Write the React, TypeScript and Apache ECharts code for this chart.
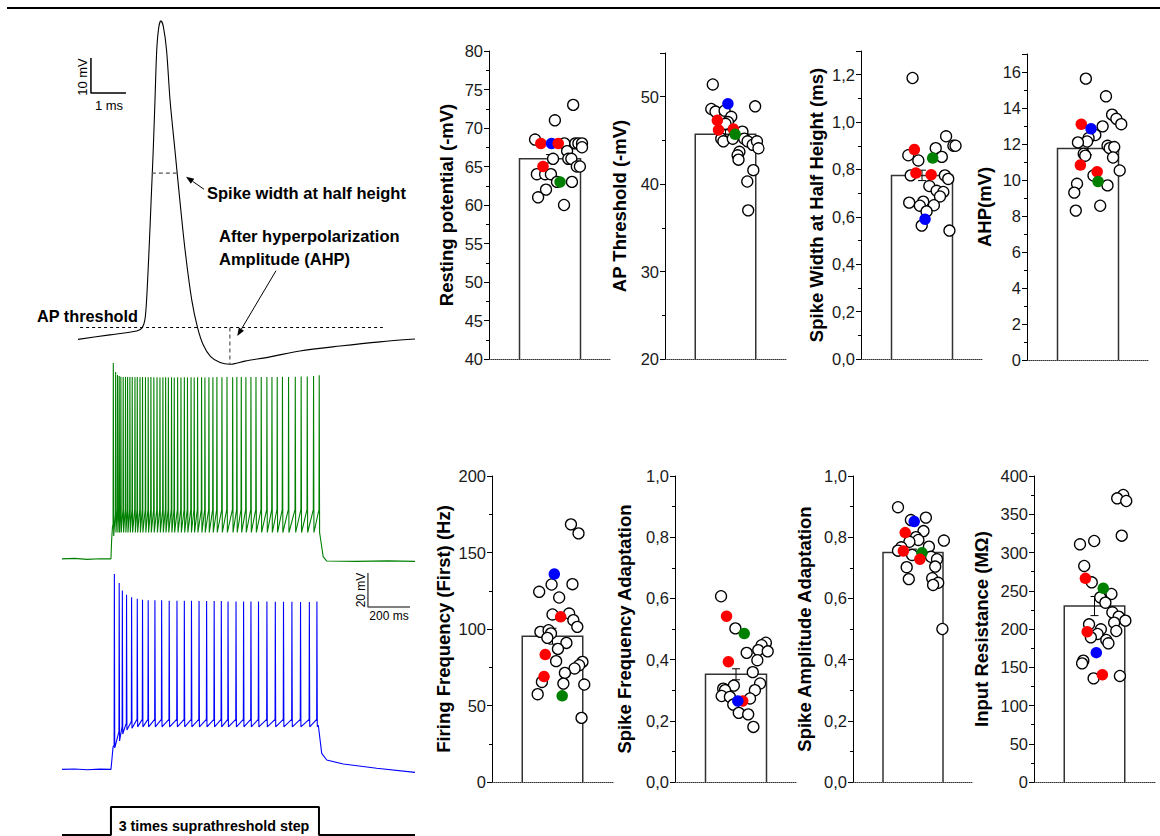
import React, { useEffect, useRef } from "react";
import * as echarts from "echarts";

// ---------------- Action potential waveform (ms, mV) ----------------
const apTrace: [number, number][] = [
  [0, -48.4], [0.91, -47.1], [1.68, -46.0], [1.83, -45.1], [1.91, -42.9], [1.96, -37.1],
  [2.03, -22.9], [2.09, -8.6], [2.15, 5.7], [2.2, 20], [2.25, 34.3], [2.31, 40.9],
  [2.37, 42.6], [2.44, 40.9], [2.53, 34.3], [2.63, 20], [2.77, 5.7], [2.91, -8.6],
  [3.06, -22.9], [3.25, -37.1], [3.42, -45.2], [3.58, -50], [3.79, -53.3], [4.06, -55],
  [4.34, -55.5], [4.77, -54.6], [5.49, -53.4], [6.34, -51.7], [7.49, -50.3], [8.63, -49.1], [9.63, -48.3],
];
const apThresholdLine: [number, number][] = [[0.06, -45], [8.71, -45]];
const halfHeightLine: [number, number][] = [[2.11, -0.9], [2.86, -0.9]];
const ahpLine: [number, number][] = [[4.34, -45], [4.34, -55.5]];
const apScaleBar: [number, number][] = [[0.37, 32], [0.37, 22], [1.37, 22]];

// ---------------- Spike trains (ms, mV) ----------------
const greenSpikeTimes = [
  243, 254, 263, 271, 279, 290, 301, 311, 322, 333, 346, 357, 370, 382, 396, 409, 422, 436, 451, 465,
  479, 492, 505, 520, 533, 549, 565, 581, 596, 613, 628, 644, 663, 679, 698, 717, 736, 760, 784, 811,
  831, 852, 874, 898, 922, 947, 974, 998, 1023, 1048, 1077, 1109, 1137, 1166, 1196, 1223,
];
const greenSpikePeaks = [
  44.7, 39.4, 37.6, 37.0, 36.6, 36.5, 36.5, 36.4, 36.5, 36.4, 36.3, 36.4, 36.3, 36.4, 36.3, 36.3,
  36.4, 36.3, 36.3, 36.2, 36.3, 36.3, 36.2, 36.3, 36.2, 36.3, 36.2, 36.3, 36.2, 36.3, 36.2, 36.3,
  36.3, 36.2, 36.3, 36.3, 36.4, 36.3, 36.4, 36.3, 36.4, 36.4, 36.3, 36.4, 36.4, 36.5, 36.4, 36.5,
  36.5, 36.6, 36.5, 36.6, 36.7, 36.8, 37.0, 37.5,
];
const greenThresholdEarly = [-50, -44];
const greenThresholdSteady = -41.5;
const greenTroughEarly = [-57];
const greenTroughSteady = -55;
const greenBefore: [number, number][] = [[0, -70.5], [60, -70.2], [120, -70.8], [180, -70.4], [233, -70.5], [236, -60], [240, -52]];
const greenAfter: [number, number][] = [[1228, -55], [1243, -69.2], [1260, -71.8], [1400, -72], [1550, -71.7], [1680, -72]];

const blueSpikeTimes = [
  248, 271, 286, 306, 330, 357, 382, 409, 441, 473, 509, 546, 581, 615, 651, 687, 723, 757, 789, 827,
  863, 898, 934, 974, 1014, 1053, 1093, 1134, 1176, 1212,
];
const blueSpikePeaks = [
  44.7, 39.4, 35.0, 32.5, 31.0, 30.2, 29.6, 29.3, 29.2, 29.2, 29.0, 29.0, 29.0, 29.0, 28.8,
  28.8, 28.8, 28.8, 28.6, 28.6, 28.6, 28.5, 28.5, 28.5, 28.4, 28.4, 28.4, 28.3, 28.3, 28.5,
];
const blueThresholdEarly = [-56, -48, -45, -43, -42];
const blueThresholdSteady = -40.8;
const blueTroughEarly = [-57.6, -53.5, -49.4, -47, -46];
const blueTroughSteady = -45.2;
const blueBefore: [number, number][] = [[0, -70.2], [60, -70.0], [120, -70.4], [180, -70.1], [233, -70.2], [236, -66.5], [243, -57]];
const blueAfter: [number, number][] = [[1219.7, -44.1], [1236, -60.8], [1260, -64.7], [1339, -67.1], [1497.6, -69.6], [1680, -72]];

const stepTrace: [number, number][] = [[0, 0], [233, 0], [233, 1], [1223, 1], [1223, 0], [1680, 0]];
const trainScaleBar: [number, number][] = [[1456, 45.3], [1456, 25.3], [1656, 25.3]];

// ---------------- Summary panels ----------------
type Pt = [number, number];
type GPt = [number, number, string];

const restingMean = 66, restingSem = 0.55;
const restingOpen: Pt[] = [
  [1.51, 68.5], [2.16, 71], [2.76, 73], [2.47, 68], [2.56, 67], [2.83, 68], [2.93, 68], [3.05, 68], [3.05, 67.5],
  [2.1, 66], [2.6, 66], [2.7, 66], [2.88, 65], [2.98, 65], [1.57, 64], [1.84, 64], [2.03, 64], [2.23, 63],
  [2.72, 63], [1.87, 62], [1.61, 61], [2.46, 60],
];
const restingFilled: GPt[] = [[1.7, 68, "red"], [2.05, 68, "blue"], [2.27, 68, "red"], [1.77, 65, "red"], [2.33, 63, "green"]];

const thrMean = 45.7, thrSem = 0.5;
const thrOpen: Pt[] = [
  [1.58, 51.4], [2.98, 48.9], [1.53, 48.6], [1.67, 48.3], [1.97, 48.4], [2.19, 47.7], [2.08, 47.1], [2.0, 46.9],
  [1.86, 45.2], [1.93, 44.9], [2.24, 45.2], [2.56, 46.0], [2.62, 45.2], [2.73, 44.9], [2.9, 44.5], [3.04, 44.9],
  [3.09, 44.1], [2.46, 43.7], [2.4, 43.3], [2.43, 42.8], [2.92, 41.6], [2.72, 40.3], [2.75, 37.0],
];
const thrFilled: GPt[] = [[2.08, 49.2, "blue"], [1.73, 47.3, "red"], [1.77, 46.2, "red"], [2.26, 46.3, "red"], [2.32, 45.7, "green"]];

const widthMean = 0.775, widthSem = 0.022;
const widthOpen: Pt[] = [
  [1.69, 1.186], [2.79, 0.94], [3.03, 0.9], [3.1, 0.9], [1.55, 0.86], [1.88, 0.838], [2.45, 0.89], [2.65, 0.853],
  [1.63, 0.775], [2.75, 0.775], [2.86, 0.76], [2.24, 0.73], [2.48, 0.71], [2.7, 0.705], [2.59, 0.686], [1.58, 0.66],
  [2.04, 0.664], [1.93, 0.647], [2.39, 0.649], [2.15, 0.623], [1.99, 0.563], [2.9, 0.542],
];
const widthFilled: GPt[] = [[1.75, 0.884, "red"], [2.35, 0.848, "green"], [1.8, 0.785, "red"], [2.3, 0.778, "red"], [2.1, 0.59, "blue"]];

const ahpMean = 11.75, ahpSem = 0.35;
const ahpOpen: Pt[] = [
  [1.93, 15.63], [2.59, 14.65], [2.79, 13.63], [2.93, 13.4], [3.09, 13.1], [2.48, 12.98], [2.24, 12.5], [2.02, 12.33],
  [1.97, 12.14], [1.67, 12.09], [1.86, 11.46], [1.91, 11.35], [2.64, 11.9], [2.71, 11.77], [2.86, 11.83], [2.82, 11.25],
  [3.04, 10.53], [2.18, 10.25], [1.64, 9.79], [2.64, 9.7], [1.55, 9.3], [2.4, 8.57], [1.6, 8.3],
];
const ahpFilled: GPt[] = [[1.78, 13.1, "red"], [2.1, 12.85, "blue"], [1.75, 10.83, "red"], [2.3, 10.46, "red"], [2.33, 9.92, "green"]];

const ffMean = 95.3, ffSem = 5.2;
const ffOpen: Pt[] = [
  [2.61, 168.4], [2.86, 162.5], [1.56, 124.3], [1.97, 129.1], [2.66, 129.3], [2.22, 120.6], [2.0, 109.5], [2.55, 110.1],
  [2.69, 105.8], [2.82, 101.4], [1.6, 98.1], [1.87, 99.2], [1.95, 97.1], [1.83, 94.2], [2.46, 90.9], [2.18, 87],
  [2.12, 79], [2.99, 78.5], [2.88, 76.3], [2.73, 74.2], [2.41, 71.3], [1.65, 65.4], [2.36, 64.3], [3.05, 63.7],
  [1.51, 57.4], [2.96, 41.9],
];
const ffFilled: GPt[] = [[2.06, 135.9, "blue"], [2.27, 108, "red"], [1.76, 83.3, "red"], [1.72, 68.9, "red"], [2.32, 56.3, "green"]];

const sfaMean = 0.352, sfaSem = 0.018;
const sfaOpen: Pt[] = [
  [1.51, 0.607], [1.98, 0.502], [2.98, 0.455], [2.84, 0.447], [2.73, 0.431], [3.04, 0.427], [2.35, 0.422], [2.7, 0.398],
  [2.55, 0.359], [1.93, 0.315], [2.79, 0.322], [1.58, 0.305], [1.64, 0.3], [2.62, 0.3], [1.53, 0.281], [1.8, 0.278],
  [2.46, 0.273], [1.91, 0.253], [2.09, 0.226], [2.4, 0.221], [2.57, 0.18],
];
const sfaFilled: GPt[] = [[1.69, 0.542, "red"], [2.27, 0.485, "green"], [1.75, 0.393, "red"], [2.22, 0.265, "red"], [2.06, 0.265, "blue"]];

const saaMean = 0.75, saaSem = 0.011;
const saaOpen: Pt[] = [
  [1.5, 0.898], [1.93, 0.856], [2.43, 0.864], [2.35, 0.82], [2.1, 0.8], [2.18, 0.791], [1.88, 0.785], [3.03, 0.789],
  [2.53, 0.769], [1.61, 0.767], [1.5, 0.756], [1.97, 0.742], [2.6, 0.736], [2.8, 0.728], [2.74, 0.704], [1.79, 0.702],
  [2.64, 0.666], [1.86, 0.663], [2.84, 0.651], [2.67, 0.644], [2.98, 0.5],
];
const saaFilled: GPt[] = [[2.04, 0.851, "blue"], [1.74, 0.815, "red"], [1.68, 0.755, "red"], [2.3, 0.749, "green"], [2.23, 0.728, "red"]];

const irMean = 230, irSem = 12.5;
const irOpen: Pt[] = [
  [2.95, 375.2], [2.75, 370.8], [3.05, 367.3], [2.9, 322], [1.99, 315], [1.52, 310.7], [1.66, 282.4], [1.91, 261],
  [2.56, 245.8], [2.19, 241.4], [2.36, 234.4], [2.59, 221.8], [2.8, 216.1], [3.02, 210.9], [2.65, 208.3], [1.82, 206.1],
  [2.21, 199.6], [2.72, 197.4], [2.1, 193.5], [1.88, 189.1], [2.39, 185.6], [2.46, 181.3], [1.63, 158.6], [1.59, 155.1],
  [2.84, 138.6], [1.97, 135.5],
];
const irFilled: GPt[] = [[1.7, 266.2, "red"], [2.29, 253.2, "green"], [1.76, 196.5, "red"], [2.06, 169.1, "blue"], [2.26, 140.3, "red"]];

const groupColors: Record<string, string> = { red: "#ff0000", blue: "#0000ff", green: "#008000" };

const FONT = "'Liberation Sans', Arial, Helvetica, sans-serif";

function buildTrain(
  before: [number, number][], times: number[], peaks: number[],
  thrEarly: number[], thrSteady: number, trEarly: number[], trSteady: number,
  after: [number, number][]
): [number, number][] {
  const out: [number, number][] = before.slice();
  times.forEach((t, i) => {
    const thr = i < thrEarly.length ? thrEarly[i] : thrSteady;
    const tr = i < trEarly.length ? trEarly[i] : trSteady;
    out.push([t, thr]);
    out.push([t + 1.2, peaks[i]]);
    out.push([t + 3, tr]);
  });
  return out.concat(after);
}

const panelLayout = [
  { name: "Resting potential (-mV)", min: 40, max: 80, interval: 5, dec: 0, grid: { left: 489, top: 51, width: 122, height: 308 }, gap: 33, mean: restingMean, sem: restingSem, open: restingOpen, filled: restingFilled },
  { name: "AP Threshold (-mV)", min: 20, max: 55, interval: 10, dec: 0, grid: { left: 665, top: 53, width: 121, height: 306 }, gap: 36, mean: thrMean, sem: thrSem, open: thrOpen, filled: thrFilled },
  { name: "Spike Width at Half Height (ms)", min: 0, max: 1.3, interval: 0.2, dec: 1, grid: { left: 861, top: 51, width: 122, height: 308 }, gap: 35, mean: widthMean, sem: widthSem, open: widthOpen, filled: widthFilled },
  { name: "AHP(mV)", min: 0, max: 17, interval: 2, dec: 0, grid: { left: 1027, top: 54, width: 122, height: 306 }, gap: 33, mean: ahpMean, sem: ahpSem, open: ahpOpen, filled: ahpFilled },
  { name: "Firing Frequency (First) (Hz)", min: 0, max: 200, interval: 50, dec: 0, grid: { left: 492, top: 476, width: 121, height: 306 }, gap: 39, mean: ffMean, sem: ffSem, open: ffOpen, filled: ffFilled },
  { name: "Spike Frequency Adaptation", min: 0, max: 1.0, interval: 0.2, dec: 1, grid: { left: 675, top: 476, width: 122, height: 306 }, gap: 41, mean: sfaMean, sem: sfaSem, open: sfaOpen, filled: sfaFilled },
  { name: "Spike Amplitude Adaptation", min: 0, max: 1.0, interval: 0.2, dec: 1, grid: { left: 853, top: 476, width: 120, height: 306 }, gap: 39, mean: saaMean, sem: saaSem, open: saaOpen, filled: saaFilled },
  { name: "Input Resistance (MΩ)", min: 0, max: 400, interval: 50, dec: 0, grid: { left: 1034, top: 476, width: 121, height: 306 }, gap: 43, mean: irMean, sem: irSem, open: irOpen, filled: irFilled },
];

// annotation arrows, page pixels [tailX, tailY, tipX, tipY]
const annotationArrows = [
  [204, 189.3, 186, 176.7],
  [276, 270.7, 237.3, 336],
];

function arrowGraphic(a: number[]) {
  const [x1, y1, x2, y2] = a;
  const dx = x2 - x1, dy = y2 - y1;
  const len = Math.hypot(dx, dy);
  const ux = dx / len, uy = dy / len;
  const hl = 8, hw = 3;
  const bx = x2 - ux * hl, by = y2 - uy * hl;
  const px = -uy * hw, py = ux * hw;
  return [
    { type: "line", silent: true, shape: { x1, y1, x2: bx, y2: by }, style: { stroke: "#000", lineWidth: 1 } },
    { type: "polygon", silent: true, shape: { points: [[x2, y2], [bx + px, by + py], [bx - px, by - py]] }, style: { fill: "#000" } },
  ];
}

function buildOption() {
  const grids: any[] = [
    { left: 78, top: 16, width: 337, height: 350 },
    { left: 62, top: 354, width: 353, height: 221 },
    { left: 62, top: 565, width: 353, height: 221 },
    { left: 62, top: 807, width: 353, height: 28 },
  ];
  const hiddenX = (gi: number, min: number, max: number) => ({ type: "value", gridIndex: gi, min, max, show: false });
  const xAxes: any[] = [hiddenX(0, 0, 9.63), hiddenX(1, 0, 1680), hiddenX(2, 0, 1680), hiddenX(3, 0, 1680)];
  const yAxes: any[] = [
    { type: "value", gridIndex: 0, min: -56, max: 44, show: false },
    { type: "value", gridIndex: 1, min: -80, max: 50, show: false },
    { type: "value", gridIndex: 2, min: -80, max: 50, show: false },
    { type: "value", gridIndex: 3, min: 0, max: 1, show: false },
  ];
  const series: any[] = [];
  const lineS = (ai: number, data: any, color: string, width: number, type: any = "solid", extra: any = {}) => ({
    type: "line", xAxisIndex: ai, yAxisIndex: ai, data, showSymbol: false, symbol: "none",
    lineStyle: { color, width, type }, silent: true, ...extra,
  });

  series.push(lineS(0, apTrace, "#000", 1.1, "solid", { smooth: 0.3 }));
  series.push(lineS(0, apThresholdLine, "#000", 1, [3, 3]));
  series.push(lineS(0, halfHeightLine, "#555", 1.2, [4, 3]));
  series.push(lineS(0, ahpLine, "#555", 1.2, [4, 3]));
  series.push(lineS(0, apScaleBar, "#000", 1.5));

  const greenData = buildTrain(greenBefore, greenSpikeTimes, greenSpikePeaks, greenThresholdEarly, greenThresholdSteady, greenTroughEarly, greenTroughSteady, greenAfter);
  const blueData = buildTrain(blueBefore, blueSpikeTimes, blueSpikePeaks, blueThresholdEarly, blueThresholdSteady, blueTroughEarly, blueTroughSteady, blueAfter);
  series.push(lineS(1, greenData, "#008000", 1.1));
  series.push(lineS(2, blueData, "#0000ff", 1.1));
  series.push(lineS(2, trainScaleBar, "#555", 1.5));
  series.push(lineS(3, stepTrace, "#000", 2));

  panelLayout.forEach((p, k) => {
    const gi = 4 + k;
    grids.push(p.grid);
    xAxes.push({
      type: "value", gridIndex: gi, min: 0, max: 4,
      axisLine: { show: true, onZero: false, lineStyle: { color: "#333", width: 1, type: "dotted" } },
      axisTick: { show: false }, axisLabel: { show: false }, splitLine: { show: false },
    });
    const ratio = p.max / p.interval;
    yAxes.push({
      type: "value", gridIndex: gi, min: p.min, max: p.max, interval: p.interval,
      name: p.name, nameLocation: "middle", nameGap: p.gap, nameRotate: 90,
      nameTextStyle: { fontFamily: FONT, fontSize: 18.5, fontWeight: "bold", color: "#000" },
      axisLine: { show: true, onZero: false, lineStyle: { color: "#000", width: 1 } },
      axisTick: { show: true, length: 5, lineStyle: { color: "#000", width: 1 } },
      minorTick: { show: true, splitNumber: 2, length: 3, lineStyle: { color: "#000", width: 1 } },
      splitLine: { show: false },
      axisLabel: {
        fontFamily: FONT, fontSize: 16.5, color: "#1a1a1a", margin: 6,
        showMaxLabel: Math.abs(ratio - Math.round(ratio)) < 1e-9,
        formatter: (v: number) => (p.dec ? v.toFixed(1).replace(".", ",") : String(Math.round(v))),
      },
    });
    // bar outline (open at the bottom)
    series.push({
      type: "custom", xAxisIndex: gi, yAxisIndex: gi, z: 2, silent: true,
      data: [[2, p.mean]],
      renderItem: (_params: any, api: any) => {
        const x = api.value(0);
        const tl = api.coord([x - 1, api.value(1)]);
        const tr = api.coord([x + 1, api.value(1)]);
        const base = api.coord([x, p.min]);
        return {
          type: "polyline",
          shape: { points: [[tl[0], base[1]], tl, tr, [tr[0], base[1]]] },
          style: { stroke: "#333", lineWidth: 1.5, fill: null },
        };
      },
    });
    series.push({
      type: "custom", xAxisIndex: gi, yAxisIndex: gi, z: 3, silent: true,
      data: [[2, p.mean - p.sem, p.mean + p.sem]],
      renderItem: (_params: any, api: any) => {
        const x = api.value(0);
        const top = api.coord([x, api.value(2)]);
        const bot = api.coord([x, api.value(1)]);
        const hw = 4;
        const st = { stroke: "#000", lineWidth: 1 };
        return {
          type: "group",
          children: [
            { type: "line", shape: { x1: top[0], y1: top[1], x2: bot[0], y2: bot[1] }, style: st },
            { type: "line", shape: { x1: top[0] - hw, y1: top[1], x2: top[0] + hw, y2: top[1] }, style: st },
            { type: "line", shape: { x1: bot[0] - hw, y1: bot[1], x2: bot[0] + hw, y2: bot[1] }, style: st },
          ],
        };
      },
    });
    series.push({
      type: "scatter", xAxisIndex: gi, yAxisIndex: gi, data: p.open, symbolSize: 11, z: 4, silent: true,
      itemStyle: { color: "#fff", borderColor: "#000", borderWidth: 1.3, opacity: 1 },
    });
    series.push({
      type: "scatter", xAxisIndex: gi, yAxisIndex: gi, symbolSize: 11.5, z: 5, silent: true,
      data: p.filled.map((d) => ({ value: [d[0], d[1]], itemStyle: { color: groupColors[d[2]], opacity: 1 } })),
      itemStyle: { opacity: 1 },
    });
  });

  const txt = (text: string, x: number, y: number, size: number, bold: boolean, align: string = "left", rotation = 0) => ({
    type: "text", x, y, rotation, silent: true,
    style: { text, fontFamily: FONT, fontSize: size, fontWeight: bold ? "bold" : "normal", fill: "#000", align, verticalAlign: "middle" },
  });

  const graphic: any[] = [
    { type: "line", shape: { x1: 7, y1: 8, x2: 1160, y2: 8 }, style: { stroke: "#000", lineWidth: 2 }, silent: true },
    txt("10 mV", 82, 77, 13, false, "center", Math.PI / 2),
    txt("1 ms", 109, 105, 13, false, "center"),
    txt("Spike width at half height", 207, 193, 16.5, true),
    txt("After hyperpolarization", 219, 236, 16.5, true),
    txt("Amplitude (AHP)", 219, 259, 16.5, true),
    txt("AP threshold", 37, 316, 16.3, true),
    txt("20 mV", 361, 590, 12, false, "center", Math.PI / 2),
    txt("200 ms", 389, 616, 12, false, "center"),
    txt("3 times suprathreshold step", 214, 826, 14.3, true, "center"),
    ...annotationArrows.flatMap(arrowGraphic),
  ];

  return { animation: false, grid: grids, xAxis: xAxes, yAxis: yAxes, series, graphic };
}

export default function App() {
  const ref = useRef<HTMLDivElement>(null);
  useEffect(() => {
    if (!ref.current) return;
    const chart = echarts.init(ref.current, undefined, { renderer: "svg" });
    chart.setOption(buildOption() as any);
    return () => chart.dispose();
  }, []);
  return (
    <div
      ref={ref}
      style={{ position: "absolute", left: 0, top: 0, width: 1160, height: 836, background: "#fff" }}
    />
  );
}
